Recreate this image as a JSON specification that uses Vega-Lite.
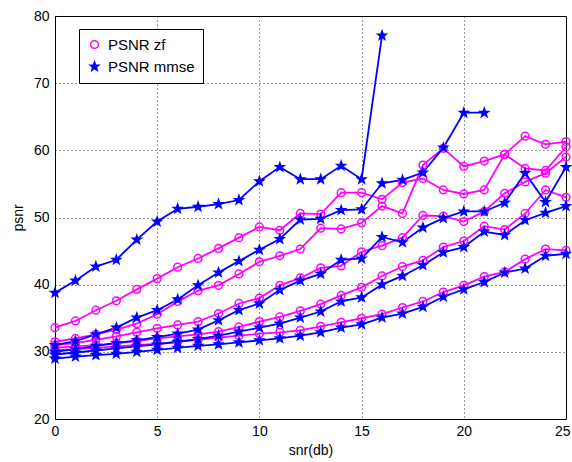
{
  "$schema": "https://vega.github.io/schema/vega-lite/v6.json",
  "width": 511,
  "height": 403,
  "autosize": {"type": "none"},
  "padding": {"left": 55, "top": 16, "right": 6, "bottom": 43},
  "background": "white",
  "config": {
    "font": "Liberation Sans",
    "view": {"stroke": "black", "strokeWidth": 1},
    "axis": {
      "grid": true, "gridColor": "black", "gridDash": [1, 3], "gridOpacity": 0.8,
      "ticks": false, "domain": false,
      "labelFont": "Liberation Sans", "labelFontSize": 14, "labelColor": "black",
      "titleFont": "Liberation Sans", "titleFontSize": 14, "titleFontWeight": "normal", "titleColor": "black"
    }
  },
  "data": {"values": [
    {"s":"zf1","t":"PSNR zf","x":0,"v":33.6},{"s":"zf1","t":"PSNR zf","x":1,"v":34.6},{"s":"zf1","t":"PSNR zf","x":2,"v":36.2},{"s":"zf1","t":"PSNR zf","x":3,"v":37.6},{"s":"zf1","t":"PSNR zf","x":4,"v":39.3},{"s":"zf1","t":"PSNR zf","x":5,"v":40.9},{"s":"zf1","t":"PSNR zf","x":6,"v":42.6},{"s":"zf1","t":"PSNR zf","x":7,"v":43.9},{"s":"zf1","t":"PSNR zf","x":8,"v":45.4},{"s":"zf1","t":"PSNR zf","x":9,"v":47.0},{"s":"zf1","t":"PSNR zf","x":10,"v":48.6},{"s":"zf1","t":"PSNR zf","x":11,"v":48.1},{"s":"zf1","t":"PSNR zf","x":12,"v":50.6},{"s":"zf1","t":"PSNR zf","x":13,"v":50.5},{"s":"zf1","t":"PSNR zf","x":14,"v":53.7},{"s":"zf1","t":"PSNR zf","x":15,"v":53.7},{"s":"zf1","t":"PSNR zf","x":16,"v":52.7},{"s":"zf1","t":"PSNR zf","x":17,"v":55.2},{"s":"zf1","t":"PSNR zf","x":18,"v":55.8},{"s":"zf1","t":"PSNR zf","x":19,"v":54.1},{"s":"zf1","t":"PSNR zf","x":20,"v":53.5},{"s":"zf1","t":"PSNR zf","x":21,"v":54.1},{"s":"zf1","t":"PSNR zf","x":22,"v":59.4},{"s":"zf1","t":"PSNR zf","x":23,"v":62.1},{"s":"zf1","t":"PSNR zf","x":24,"v":60.9},{"s":"zf1","t":"PSNR zf","x":25,"v":61.3},
    {"s":"zf2","t":"PSNR zf","x":0,"v":31.5},{"s":"zf2","t":"PSNR zf","x":1,"v":32.0},{"s":"zf2","t":"PSNR zf","x":2,"v":32.6},{"s":"zf2","t":"PSNR zf","x":3,"v":33.3},{"s":"zf2","t":"PSNR zf","x":4,"v":34.2},{"s":"zf2","t":"PSNR zf","x":5,"v":35.6},{"s":"zf2","t":"PSNR zf","x":6,"v":37.5},{"s":"zf2","t":"PSNR zf","x":7,"v":39.1},{"s":"zf2","t":"PSNR zf","x":8,"v":39.9},{"s":"zf2","t":"PSNR zf","x":9,"v":41.6},{"s":"zf2","t":"PSNR zf","x":10,"v":43.4},{"s":"zf2","t":"PSNR zf","x":11,"v":44.3},{"s":"zf2","t":"PSNR zf","x":12,"v":45.3},{"s":"zf2","t":"PSNR zf","x":13,"v":48.4},{"s":"zf2","t":"PSNR zf","x":14,"v":48.3},{"s":"zf2","t":"PSNR zf","x":15,"v":49.2},{"s":"zf2","t":"PSNR zf","x":16,"v":51.7},{"s":"zf2","t":"PSNR zf","x":17,"v":50.6},{"s":"zf2","t":"PSNR zf","x":18,"v":57.8},{"s":"zf2","t":"PSNR zf","x":19,"v":60.3},{"s":"zf2","t":"PSNR zf","x":20,"v":57.6},{"s":"zf2","t":"PSNR zf","x":21,"v":58.4},{"s":"zf2","t":"PSNR zf","x":22,"v":59.4},{"s":"zf2","t":"PSNR zf","x":23,"v":57.3},{"s":"zf2","t":"PSNR zf","x":24,"v":57.0},{"s":"zf2","t":"PSNR zf","x":25,"v":60.5},
    {"s":"zf3","t":"PSNR zf","x":0,"v":31.0},{"s":"zf3","t":"PSNR zf","x":1,"v":31.3},{"s":"zf3","t":"PSNR zf","x":2,"v":31.8},{"s":"zf3","t":"PSNR zf","x":3,"v":32.3},{"s":"zf3","t":"PSNR zf","x":4,"v":32.9},{"s":"zf3","t":"PSNR zf","x":5,"v":33.5},{"s":"zf3","t":"PSNR zf","x":6,"v":34.0},{"s":"zf3","t":"PSNR zf","x":7,"v":34.5},{"s":"zf3","t":"PSNR zf","x":8,"v":35.7},{"s":"zf3","t":"PSNR zf","x":9,"v":37.2},{"s":"zf3","t":"PSNR zf","x":10,"v":38.0},{"s":"zf3","t":"PSNR zf","x":11,"v":39.9},{"s":"zf3","t":"PSNR zf","x":12,"v":41.0},{"s":"zf3","t":"PSNR zf","x":13,"v":42.5},{"s":"zf3","t":"PSNR zf","x":14,"v":42.8},{"s":"zf3","t":"PSNR zf","x":15,"v":44.9},{"s":"zf3","t":"PSNR zf","x":16,"v":45.8},{"s":"zf3","t":"PSNR zf","x":17,"v":47.0},{"s":"zf3","t":"PSNR zf","x":18,"v":50.3},{"s":"zf3","t":"PSNR zf","x":19,"v":50.2},{"s":"zf3","t":"PSNR zf","x":20,"v":49.4},{"s":"zf3","t":"PSNR zf","x":21,"v":50.9},{"s":"zf3","t":"PSNR zf","x":22,"v":53.6},{"s":"zf3","t":"PSNR zf","x":23,"v":55.3},{"s":"zf3","t":"PSNR zf","x":24,"v":56.6},{"s":"zf3","t":"PSNR zf","x":25,"v":59.0},
    {"s":"zf4","t":"PSNR zf","x":0,"v":30.6},{"s":"zf4","t":"PSNR zf","x":1,"v":30.8},{"s":"zf4","t":"PSNR zf","x":2,"v":31.0},{"s":"zf4","t":"PSNR zf","x":3,"v":31.3},{"s":"zf4","t":"PSNR zf","x":4,"v":31.6},{"s":"zf4","t":"PSNR zf","x":5,"v":32.0},{"s":"zf4","t":"PSNR zf","x":6,"v":32.3},{"s":"zf4","t":"PSNR zf","x":7,"v":32.6},{"s":"zf4","t":"PSNR zf","x":8,"v":33.0},{"s":"zf4","t":"PSNR zf","x":9,"v":33.7},{"s":"zf4","t":"PSNR zf","x":10,"v":34.5},{"s":"zf4","t":"PSNR zf","x":11,"v":35.2},{"s":"zf4","t":"PSNR zf","x":12,"v":36.1},{"s":"zf4","t":"PSNR zf","x":13,"v":37.1},{"s":"zf4","t":"PSNR zf","x":14,"v":38.4},{"s":"zf4","t":"PSNR zf","x":15,"v":39.6},{"s":"zf4","t":"PSNR zf","x":16,"v":41.3},{"s":"zf4","t":"PSNR zf","x":17,"v":42.7},{"s":"zf4","t":"PSNR zf","x":18,"v":43.6},{"s":"zf4","t":"PSNR zf","x":19,"v":45.6},{"s":"zf4","t":"PSNR zf","x":20,"v":46.5},{"s":"zf4","t":"PSNR zf","x":21,"v":48.7},{"s":"zf4","t":"PSNR zf","x":22,"v":48.2},{"s":"zf4","t":"PSNR zf","x":23,"v":50.6},{"s":"zf4","t":"PSNR zf","x":24,"v":54.1},{"s":"zf4","t":"PSNR zf","x":25,"v":53.0},
    {"s":"zf5","t":"PSNR zf","x":0,"v":30.2},{"s":"zf5","t":"PSNR zf","x":1,"v":30.4},{"s":"zf5","t":"PSNR zf","x":2,"v":30.6},{"s":"zf5","t":"PSNR zf","x":3,"v":30.8},{"s":"zf5","t":"PSNR zf","x":4,"v":31.0},{"s":"zf5","t":"PSNR zf","x":5,"v":31.2},{"s":"zf5","t":"PSNR zf","x":6,"v":31.5},{"s":"zf5","t":"PSNR zf","x":7,"v":31.8},{"s":"zf5","t":"PSNR zf","x":8,"v":32.1},{"s":"zf5","t":"PSNR zf","x":9,"v":32.4},{"s":"zf5","t":"PSNR zf","x":10,"v":32.7},{"s":"zf5","t":"PSNR zf","x":11,"v":32.9},{"s":"zf5","t":"PSNR zf","x":12,"v":33.2},{"s":"zf5","t":"PSNR zf","x":13,"v":33.8},{"s":"zf5","t":"PSNR zf","x":14,"v":34.4},{"s":"zf5","t":"PSNR zf","x":15,"v":35.0},{"s":"zf5","t":"PSNR zf","x":16,"v":35.6},{"s":"zf5","t":"PSNR zf","x":17,"v":36.6},{"s":"zf5","t":"PSNR zf","x":18,"v":37.5},{"s":"zf5","t":"PSNR zf","x":19,"v":38.9},{"s":"zf5","t":"PSNR zf","x":20,"v":39.9},{"s":"zf5","t":"PSNR zf","x":21,"v":41.2},{"s":"zf5","t":"PSNR zf","x":22,"v":41.9},{"s":"zf5","t":"PSNR zf","x":23,"v":43.8},{"s":"zf5","t":"PSNR zf","x":24,"v":45.3},{"s":"zf5","t":"PSNR zf","x":25,"v":45.1},
    {"s":"mm1","t":"PSNR mmse","x":0,"v":38.8},{"s":"mm1","t":"PSNR mmse","x":1,"v":40.6},{"s":"mm1","t":"PSNR mmse","x":2,"v":42.7},{"s":"mm1","t":"PSNR mmse","x":3,"v":43.7},{"s":"mm1","t":"PSNR mmse","x":4,"v":46.7},{"s":"mm1","t":"PSNR mmse","x":5,"v":49.4},{"s":"mm1","t":"PSNR mmse","x":6,"v":51.3},{"s":"mm1","t":"PSNR mmse","x":7,"v":51.6},{"s":"mm1","t":"PSNR mmse","x":8,"v":52.0},{"s":"mm1","t":"PSNR mmse","x":9,"v":52.6},{"s":"mm1","t":"PSNR mmse","x":10,"v":55.4},{"s":"mm1","t":"PSNR mmse","x":11,"v":57.5},{"s":"mm1","t":"PSNR mmse","x":12,"v":55.7},{"s":"mm1","t":"PSNR mmse","x":13,"v":55.7},{"s":"mm1","t":"PSNR mmse","x":14,"v":57.7},{"s":"mm1","t":"PSNR mmse","x":15,"v":55.7},{"s":"mm1","t":"PSNR mmse","x":16,"v":77.1},
    {"s":"mm2","t":"PSNR mmse","x":0,"v":31.0},{"s":"mm2","t":"PSNR mmse","x":1,"v":31.6},{"s":"mm2","t":"PSNR mmse","x":2,"v":32.6},{"s":"mm2","t":"PSNR mmse","x":3,"v":33.6},{"s":"mm2","t":"PSNR mmse","x":4,"v":35.1},{"s":"mm2","t":"PSNR mmse","x":5,"v":36.2},{"s":"mm2","t":"PSNR mmse","x":6,"v":37.8},{"s":"mm2","t":"PSNR mmse","x":7,"v":39.9},{"s":"mm2","t":"PSNR mmse","x":8,"v":41.8},{"s":"mm2","t":"PSNR mmse","x":9,"v":43.5},{"s":"mm2","t":"PSNR mmse","x":10,"v":45.2},{"s":"mm2","t":"PSNR mmse","x":11,"v":46.8},{"s":"mm2","t":"PSNR mmse","x":12,"v":49.7},{"s":"mm2","t":"PSNR mmse","x":13,"v":49.8},{"s":"mm2","t":"PSNR mmse","x":14,"v":51.1},{"s":"mm2","t":"PSNR mmse","x":15,"v":51.2},{"s":"mm2","t":"PSNR mmse","x":16,"v":55.1},{"s":"mm2","t":"PSNR mmse","x":17,"v":55.6},{"s":"mm2","t":"PSNR mmse","x":18,"v":56.7},{"s":"mm2","t":"PSNR mmse","x":19,"v":60.4},{"s":"mm2","t":"PSNR mmse","x":20,"v":65.6},{"s":"mm2","t":"PSNR mmse","x":21,"v":65.6},
    {"s":"mm3","t":"PSNR mmse","x":0,"v":30.0},{"s":"mm3","t":"PSNR mmse","x":1,"v":30.4},{"s":"mm3","t":"PSNR mmse","x":2,"v":30.9},{"s":"mm3","t":"PSNR mmse","x":3,"v":31.3},{"s":"mm3","t":"PSNR mmse","x":4,"v":31.7},{"s":"mm3","t":"PSNR mmse","x":5,"v":32.2},{"s":"mm3","t":"PSNR mmse","x":6,"v":32.7},{"s":"mm3","t":"PSNR mmse","x":7,"v":33.3},{"s":"mm3","t":"PSNR mmse","x":8,"v":34.7},{"s":"mm3","t":"PSNR mmse","x":9,"v":36.2},{"s":"mm3","t":"PSNR mmse","x":10,"v":37.2},{"s":"mm3","t":"PSNR mmse","x":11,"v":39.2},{"s":"mm3","t":"PSNR mmse","x":12,"v":40.6},{"s":"mm3","t":"PSNR mmse","x":13,"v":41.6},{"s":"mm3","t":"PSNR mmse","x":14,"v":43.7},{"s":"mm3","t":"PSNR mmse","x":15,"v":43.9},{"s":"mm3","t":"PSNR mmse","x":16,"v":47.1},{"s":"mm3","t":"PSNR mmse","x":17,"v":46.3},{"s":"mm3","t":"PSNR mmse","x":18,"v":48.5},{"s":"mm3","t":"PSNR mmse","x":19,"v":49.9},{"s":"mm3","t":"PSNR mmse","x":20,"v":50.9},{"s":"mm3","t":"PSNR mmse","x":21,"v":50.9},{"s":"mm3","t":"PSNR mmse","x":22,"v":52.2},{"s":"mm3","t":"PSNR mmse","x":23,"v":56.6},{"s":"mm3","t":"PSNR mmse","x":24,"v":52.3},{"s":"mm3","t":"PSNR mmse","x":25,"v":57.5},
    {"s":"mm4","t":"PSNR mmse","x":0,"v":29.6},{"s":"mm4","t":"PSNR mmse","x":1,"v":29.9},{"s":"mm4","t":"PSNR mmse","x":2,"v":30.2},{"s":"mm4","t":"PSNR mmse","x":3,"v":30.5},{"s":"mm4","t":"PSNR mmse","x":4,"v":30.8},{"s":"mm4","t":"PSNR mmse","x":5,"v":31.1},{"s":"mm4","t":"PSNR mmse","x":6,"v":31.5},{"s":"mm4","t":"PSNR mmse","x":7,"v":31.9},{"s":"mm4","t":"PSNR mmse","x":8,"v":32.4},{"s":"mm4","t":"PSNR mmse","x":9,"v":33.0},{"s":"mm4","t":"PSNR mmse","x":10,"v":33.6},{"s":"mm4","t":"PSNR mmse","x":11,"v":34.2},{"s":"mm4","t":"PSNR mmse","x":12,"v":35.1},{"s":"mm4","t":"PSNR mmse","x":13,"v":36.0},{"s":"mm4","t":"PSNR mmse","x":14,"v":37.5},{"s":"mm4","t":"PSNR mmse","x":15,"v":38.1},{"s":"mm4","t":"PSNR mmse","x":16,"v":40.0},{"s":"mm4","t":"PSNR mmse","x":17,"v":41.3},{"s":"mm4","t":"PSNR mmse","x":18,"v":42.9},{"s":"mm4","t":"PSNR mmse","x":19,"v":44.8},{"s":"mm4","t":"PSNR mmse","x":20,"v":45.6},{"s":"mm4","t":"PSNR mmse","x":21,"v":47.9},{"s":"mm4","t":"PSNR mmse","x":22,"v":47.4},{"s":"mm4","t":"PSNR mmse","x":23,"v":49.6},{"s":"mm4","t":"PSNR mmse","x":24,"v":50.7},{"s":"mm4","t":"PSNR mmse","x":25,"v":51.7},
    {"s":"mm5","t":"PSNR mmse","x":0,"v":29.0},{"s":"mm5","t":"PSNR mmse","x":1,"v":29.3},{"s":"mm5","t":"PSNR mmse","x":2,"v":29.5},{"s":"mm5","t":"PSNR mmse","x":3,"v":29.7},{"s":"mm5","t":"PSNR mmse","x":4,"v":30.0},{"s":"mm5","t":"PSNR mmse","x":5,"v":30.3},{"s":"mm5","t":"PSNR mmse","x":6,"v":30.6},{"s":"mm5","t":"PSNR mmse","x":7,"v":30.9},{"s":"mm5","t":"PSNR mmse","x":8,"v":31.1},{"s":"mm5","t":"PSNR mmse","x":9,"v":31.4},{"s":"mm5","t":"PSNR mmse","x":10,"v":31.7},{"s":"mm5","t":"PSNR mmse","x":11,"v":32.0},{"s":"mm5","t":"PSNR mmse","x":12,"v":32.4},{"s":"mm5","t":"PSNR mmse","x":13,"v":32.9},{"s":"mm5","t":"PSNR mmse","x":14,"v":33.6},{"s":"mm5","t":"PSNR mmse","x":15,"v":34.1},{"s":"mm5","t":"PSNR mmse","x":16,"v":35.1},{"s":"mm5","t":"PSNR mmse","x":17,"v":35.7},{"s":"mm5","t":"PSNR mmse","x":18,"v":36.7},{"s":"mm5","t":"PSNR mmse","x":19,"v":38.2},{"s":"mm5","t":"PSNR mmse","x":20,"v":39.3},{"s":"mm5","t":"PSNR mmse","x":21,"v":40.4},{"s":"mm5","t":"PSNR mmse","x":22,"v":41.8},{"s":"mm5","t":"PSNR mmse","x":23,"v":42.4},{"s":"mm5","t":"PSNR mmse","x":24,"v":44.3},{"s":"mm5","t":"PSNR mmse","x":25,"v":44.6}
  ]},
  "encoding": {
    "x": {"field": "x", "type": "quantitative", "scale": {"domain": [0, 25], "nice": false},
      "axis": {"values": [0, 5, 10, 15, 20, 25], "title": "snr(db)", "labelPadding": 5, "titlePadding": 5, "labelFlush": true, "labelFlushOffset": 4}},
    "y": {"field": "v", "type": "quantitative", "scale": {"domain": [20, 80], "nice": false, "zero": false},
      "axis": {"values": [20, 30, 40, 50, 60, 70, 80], "title": "psnr", "labelPadding": 6, "titlePadding": 8, "labelFlush": false}}
  },
  "layer": [
    {
      "mark": {"type": "line", "strokeWidth": 1.8},
      "encoding": {
        "detail": {"field": "s"},
        "color": {"field": "t", "type": "nominal", "scale": {"domain": ["PSNR zf", "PSNR mmse"], "range": ["#ff00ff", "#0000ff"]},
          "legend": {
            "title": null, "orient": "none", "legendX": 24, "legendY": 13,
            "strokeColor": "black", "fillColor": "white", "padding": 8,
            "labelFontSize": 15, "labelFont": "Liberation Sans", "labelColor": "black", "labelOffset": 6,
            "rowPadding": 6
          }}
      }
    },
    {
      "mark": {"type": "point", "filled": false, "strokeWidth": 1.5, "opacity": 1},
      "encoding": {
        "stroke": {"field": "t", "type": "nominal", "scale": {"domain": ["PSNR zf", "PSNR mmse"], "range": ["#ff00ff", "#0000ff"]}, "legend": null},
        "shape": {"field": "t", "type": "nominal", "scale": {"domain": ["PSNR zf", "PSNR mmse"], "range": ["circle", "M0,-1L0.24,-0.33L0.95,-0.31L0.39,0.13L0.59,0.81L0,0.41L-0.59,0.81L-0.39,0.13L-0.95,-0.31L-0.24,-0.33Z"]}, "legend": null},
        "size": {"field": "t", "type": "nominal", "scale": {"domain": ["PSNR zf", "PSNR mmse"], "range": [60, 80]}, "legend": null},
        "fill": {"field": "t", "type": "nominal", "scale": {"domain": ["PSNR zf", "PSNR mmse"], "range": ["transparent", "#0000ff"]}, "legend": null}
      }
    }
  ]
}
